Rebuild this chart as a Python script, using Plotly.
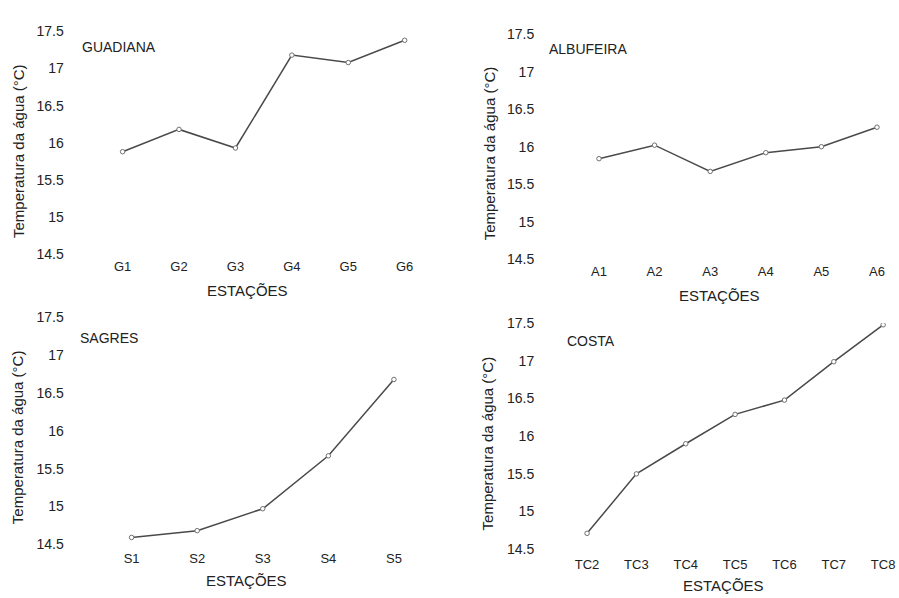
import plotly.graph_objects as go

# Station labels and mean water temperature (°C) for each area
guadiana_st = ["G1", "G2", "G3", "G4", "G5", "G6"]
guadiana_t = [15.88, 16.18, 15.93, 17.18, 17.08, 17.38]

albufeira_st = ["A1", "A2", "A3", "A4", "A5", "A6"]
albufeira_t = [15.84, 16.02, 15.67, 15.92, 16.00, 16.26]

sagres_st = ["S1", "S2", "S3", "S4", "S5"]
sagres_t = [14.59, 14.68, 14.97, 15.67, 16.68]

costa_st = ["TC2", "TC3", "TC4", "TC5", "TC6", "TC7", "TC8"]
costa_t = [14.71, 15.50, 15.90, 16.29, 16.48, 16.99, 17.48]

y_ticks = [14.5, 15, 15.5, 16, 16.5, 17, 17.5]
y_ticktext = ["14.5", "15", "15.5", "16", "16.5", "17", "17.5"]

W, H = 899, 598
FONT = "Liberation Sans, Arial, Helvetica, sans-serif"
TXT = "#222222"

def fx(px):
    return px / W

def fy(py):
    return 1 - py / H

# name, stations, temps, x-domain px, y-domain px (top, bottom), x range,
# gap between the x axis and its station labels
panels = [
    ("GUADIANA", guadiana_st, guadiana_t, (68, 440), (24, 253), (-0.972, 5.60), 3),
    ("ALBUFEIRA", albufeira_st, albufeira_t, (540, 895), (27, 258), (-1.093, 5.27), 3),
    ("SAGRES", sagres_st, sagres_t, (68, 440), (318, 551), (-0.973, 4.68), 5),
    ("COSTA", costa_st, costa_t, (540, 895), (324, 556), (-0.99, 6.18), 6),
]

# annotation positions: name label (left, y), x-title centre, y-title centre
label_pos = [
    ((80, 40), (248, 290), (18, 147)),
    ((549, 42), (722, 295), (491, 149)),
    ((78, 339), (247, 588), (17, 441)),
    ((567, 342), (726, 593), (489, 447)),
]

fig = go.Figure()
annotations = []

for i, (name, st, temps, xd, yd, xr, gap) in enumerate(panels):
    n = "" if i == 0 else str(i + 1)
    xa, ya = "x" + n, "y" + n
    fig.add_trace(go.Scatter(
        x=list(range(len(st))), y=temps, mode="lines+markers",
        xaxis=xa, yaxis=ya, showlegend=False,
        line=dict(color="#4a4a4a", width=1.5),
        marker=dict(symbol="circle", size=4.5, color="white",
                    line=dict(color="#707070", width=1)),
    ))
    fig.update_layout(**{
        "xaxis" + n: dict(
            domain=[fx(xd[0]), fx(xd[1])], anchor=ya, range=list(xr),
            tickmode="array", tickvals=list(range(len(st))), ticktext=st,
            showgrid=False, zeroline=False, showline=False, ticks="",
            ticklabelstandoff=gap, ticklabeloverflow="allow",
            tickfont=dict(family=FONT, size=13, color=TXT),
        ),
        "yaxis" + n: dict(
            domain=[fy(yd[1]), fy(yd[0])], anchor=xa, range=[14.5, 17.5],
            tickmode="array", tickvals=y_ticks, ticktext=y_ticktext,
            showgrid=False, zeroline=False, showline=False, ticks="",
            ticklabelstandoff=3, ticklabeloverflow="allow",
            tickfont=dict(family=FONT, size=14, color=TXT),
        ),
    })
    (nx, ny), (tx, ty), (vx, vy) = label_pos[i]
    annotations.append(dict(
        text=name, x=fx(nx), y=fy(ny), xref="paper", yref="paper",
        xanchor="left", yanchor="middle", showarrow=False,
        font=dict(family=FONT, size=14, color=TXT),
    ))
    annotations.append(dict(
        text="ESTAÇÕES", x=fx(tx), y=fy(ty), xref="paper", yref="paper",
        xanchor="center", yanchor="middle", showarrow=False,
        font=dict(family=FONT, size=15, color=TXT),
    ))
    annotations.append(dict(
        text="Temperatura da água (°C)", x=fx(vx), y=fy(vy),
        xref="paper", yref="paper", xanchor="center", yanchor="middle",
        textangle=-90, showarrow=False,
        font=dict(family=FONT, size=15, color=TXT),
    ))

fig.update_layout(
    width=W, height=H, margin=dict(l=0, r=0, t=0, b=0),
    paper_bgcolor="white", plot_bgcolor="white",
    annotations=annotations,
)

fig.write_html("out.html")
